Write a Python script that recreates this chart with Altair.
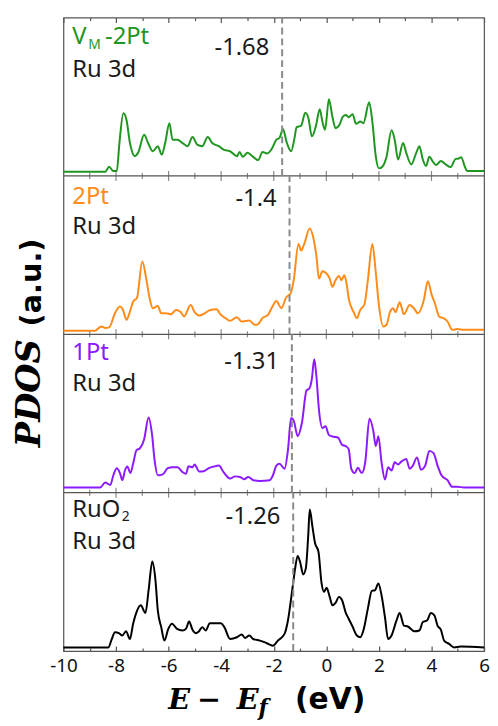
import altair as alt
import pandas as pd

# ---------------- data ----------------
x_vm = [-10, -8.41, -8.26, -8.10, -7.97, -7.87, -7.72, -7.60, -7.47, -7.28, -7.16, -6.93, -6.78, -6.60, -6.41,
        -6.26, -6.13, -5.97, -5.85, -5.66, -5.47, -5.28, -5.09, -4.91, -4.72, -4.51, -4.34, -4.09, -3.91, -3.66,
        -3.40, -3.30, -3.18, -3.00, -2.78, -2.59, -2.43, -2.25, -2.09, -1.90, -1.78, -1.65, -1.50, -1.34, -1.21,
        -1.13, -0.96, -0.80, -0.68, -0.55, -0.40, -0.25, -0.15, -0.05, 0.10, 0.23, 0.35, 0.50, 0.63, 0.75,
        0.85, 1.00, 1.13, 1.29, 1.41, 1.63, 1.75, 1.88, 2.00, 2.13, 2.29, 2.48, 2.60, 2.73, 2.92,
        3.04, 3.23, 3.42, 3.54, 3.67, 3.79, 3.92, 4.04, 4.17, 4.36, 4.54, 4.73, 4.92, 5.04, 5.13,
        5.26, 5.36, 5.61, 6.0]
y_vm = [2.7, 2.7, 5.8, 3.1, 3.1, 20.8, 39.6, 35.4, 20.8, 12.5, 14.6, 26.0, 20.8, 15.6, 18.8,
        13.5, 20.8, 33.3, 22.9, 22.9, 20.8, 18.8, 24.6, 19.8, 18.8, 24.6, 20.8, 18.8, 16.7, 15.6,
        12.5, 15.2, 12.1, 14.6, 12.1, 10.0, 15.2, 14.2, 16.7, 22.9, 24.0, 29.6, 20.8, 15.6, 24.0,
        30.8, 31.7, 40.0, 36.5, 25.0, 31.3, 42.1, 34.4, 29.2, 48.5, 37.5, 30.2, 32.3, 37.5, 38.5,
        37.1, 39.0, 32.9, 34.4, 33.3, 46.5, 34.4, 12.5, 4.8, 5.8, 12.1, 28.8, 22.9, 10.4, 20.8,
        14.6, 7.3, 14.6, 18.8, 10.4, 6.3, 12.1, 9.4, 6.9, 9.4, 7.3, 5.6, 10.8, 11.0, 11.9,
        6.3, 3.1, 3.1, 3.1]

x_2pt = [-10, -8.79, -8.56, -8.41, -8.26, -8.04, -7.85, -7.75, -7.60, -7.47, -7.35, -7.20, -7.00, -6.85, -6.72,
         -6.60, -6.41, -6.28, -6.10, -5.91, -5.72, -5.53, -5.41, -5.16, -5.01, -4.84, -4.66, -4.41, -4.18, -4.03,
         -3.84, -3.66, -3.40, -3.22, -2.93, -2.72, -2.59, -2.43, -2.22, -2.05, -1.90, -1.71, -1.53, -1.36, -1.24,
         -1.06, -0.96, -0.84, -0.63, -0.50, -0.38, -0.28, -0.15, 0.04, 0.13, 0.23, 0.35, 0.48, 0.58, 0.68,
         0.76, 0.85, 1.04, 1.16, 1.29, 1.45, 1.58, 1.75, 1.88, 2.00, 2.17, 2.29, 2.42, 2.54, 2.63,
         2.79, 2.95, 3.17, 3.35, 3.48, 3.71, 3.86, 4.01, 4.13, 4.29, 4.46, 4.61, 4.79, 4.98, 5.23, 6.0]
y_2pt = [2.3, 2.3, 5.0, 4.0, 4.4, 13.3, 17.5, 16.0, 9.2, 14.4, 20.6, 23.1, 46.0, 35.2, 22.7,
         16.5, 17.9, 13.3, 13.3, 12.7, 15.4, 14.0, 11.3, 18.5, 14.0, 11.9, 12.9, 15.4, 15.8, 12.7,
         10.2, 8.5, 10.8, 8.1, 8.8, 6.0, 6.5, 10.2, 12.3, 17.5, 21.0, 16.5, 23.3, 25.8, 34.2,
         57.1, 52.9, 57.1, 66.9, 61.3, 49.8, 35.2, 39.8, 37.7, 35.2, 30.0, 34.2, 36.9, 34.2, 37.3,
         33.1, 22.7, 14.0, 10.2, 15.4, 19.0, 34.2, 57.1, 39.4, 18.5, 5.0, 6.0, 14.0, 16.5, 14.0,
         20.2, 12.7, 18.5, 16.0, 13.3, 21.7, 33.5, 24.8, 19.6, 11.3, 10.2, 8.1, 2.9, 3.3, 2.9, 2.9]

x_1pt = [-10, -8.60, -8.41, -8.22, -8.10, -7.97, -7.85, -7.76, -7.66, -7.57, -7.45, -7.35, -7.22, -7.10, -6.93,
         -6.76, -6.63, -6.53, -6.41, -6.22, -6.03, -5.85, -5.66, -5.47, -5.34, -5.24, -5.09, -5.01, -4.84, -4.66,
         -4.47, -4.28, -4.09, -3.91, -3.66, -3.47, -3.28, -3.13, -2.97, -2.78, -2.53, -2.15, -2.03, -1.90, -1.78,
         -1.59, -1.46, -1.34, -1.24, -1.09, -0.93, -0.75, -0.65, -0.55, -0.46, -0.38, -0.28, -0.15, -0.03, 0.10,
         0.29, 0.45, 0.60, 0.73, 0.85, 0.95, 1.08, 1.20, 1.35, 1.48, 1.64, 1.79, 1.88, 1.98, 2.10,
         2.23, 2.35, 2.48, 2.60, 2.73, 2.85, 3.04, 3.17, 3.29, 3.45, 3.60, 3.76, 3.92, 4.08, 4.23,
         4.38, 4.61, 4.79, 4.98, 5.23, 6.0]
y_1pt = [3.3, 3.3, 6.4, 4.8, 11.0, 15.5, 12.4, 7.9, 14.0, 16.5, 12.4, 18.2, 26.9, 27.9, 33.7,
         47.5, 36.8, 20.2, 11.0, 11.6, 15.5, 16.1, 16.1, 13.0, 12.0, 16.7, 16.1, 17.8, 13.4, 13.6,
         15.5, 16.5, 17.1, 13.0, 8.9, 10.3, 9.9, 8.5, 9.9, 7.9, 7.4, 7.9, 11.0, 17.1, 18.2,
         15.1, 26.9, 47.1, 45.5, 35.7, 44.0, 64.7, 65.7, 71.9, 84.3, 74.0, 52.3, 40.9, 41.9, 36.4,
         35.3, 34.7, 30.2, 29.5, 27.5, 15.1, 12.4, 15.7, 12.4, 19.2, 46.7, 38.8, 29.5, 35.7, 19.2,
         8.3, 16.1, 14.0, 19.2, 17.8, 19.6, 21.3, 15.1, 17.1, 22.3, 14.5, 17.1, 26.4, 25.0, 17.1,
         11.0, 7.9, 3.7, 3.7, 3.3, 3.3]

x_ruo2 = [-10, -8.29, -8.16, -8.04, -7.89, -7.76, -7.62, -7.47, -7.35, -7.22, -7.06, -6.88, -6.76, -6.62, -6.50,
          -6.41, -6.28, -6.16, -6.01, -5.87, -5.68, -5.47, -5.34, -5.22, -5.09, -4.97, -4.84, -4.72, -4.59, -4.43,
          -4.22, -4.01, -3.88, -3.66, -3.40, -3.22, -3.09, -2.93, -2.78, -2.53, -2.28, -2.03, -1.84, -1.59, -1.46,
          -1.28, -1.18, -1.09, -0.99, -0.88, -0.78, -0.69, -0.63, -0.53, -0.43, -0.30, -0.18, -0.09, 0.01, 0.13,
          0.23, 0.35, 0.48, 0.60, 0.73, 0.85, 0.98, 1.16, 1.29, 1.41, 1.58, 1.73, 1.85, 1.98, 2.10,
          2.23, 2.35, 2.48, 2.67, 2.79, 2.95, 3.10, 3.35, 3.54, 3.67, 3.83, 3.98, 4.11, 4.23, 4.36,
          4.48, 4.67, 4.86, 5.11, 6.0]
y_ruo2 = [2.3, 2.3, 7.6, 11.9, 11.3, 9.8, 12.5, 7.6, 17.2, 24.6, 28.9, 24.0, 38.4, 56.5, 44.8,
          25.7, 15.1, 6.6, 14.0, 17.2, 14.0, 13.0, 14.0, 18.7, 13.4, 11.3, 12.5, 15.1, 13.0, 17.6,
          17.6, 17.6, 15.1, 7.6, 8.7, 10.4, 8.3, 9.8, 7.6, 6.6, 5.1, 3.4, 6.6, 10.8, 19.3,
          40.6, 52.9, 60.1, 55.8, 48.4, 52.2, 72.4, 89.4, 78.8, 68.2, 62.8, 42.7, 37.4, 39.9, 34.2,
          28.9, 30.4, 34.2, 32.1, 24.6, 20.4, 16.1, 9.8, 8.7, 13.0, 26.8, 38.0, 38.4, 42.7, 35.2,
          21.4, 7.6, 9.8, 19.3, 24.0, 16.1, 15.5, 12.5, 13.0, 18.3, 19.3, 24.0, 22.5, 16.1, 13.4,
          6.6, 4.5, 2.3, 2.8, 2.3]

series_x = [x_vm, x_2pt, x_1pt, x_ruo2]
series_y = [y_vm, y_2pt, y_1pt, y_ruo2]
colors = ["#1f961f", "#ff8c1a", "#8c1aff", "#000000"]
ef_values = [-1.68, -1.4, -1.31, -1.26]
ef_labels = ["-1.68", "-1.4", "-1.31", "-1.26"]
major_ticks = [-10, -8, -6, -4, -2, 0, 2, 4, 6]
minor_ticks = [-9, -7, -5, -3, -1, 1, 3, 5]

# ---------------- layout / styling ----------------
W, PH = 425, 160          # plot width, height of one panel
NP = 4                    # number of stacked panels
SPAN = 100                # y units per panel (pdos is in % of panel height)
XD = [-10, 6]
SANS = "Noto Sans"
TXT = "#1a1a1a"
FRAME = "#555555"
one = pd.DataFrame({"k": [0]})

xscale = alt.Scale(domain=XD, nice=False, zero=False)
yscale = alt.Scale(domain=[0, NP * SPAN], nice=False, zero=False)


def base_of(i):
    # panel 0 is on top
    return (NP - 1 - i) * SPAN


def ax(orient, values, size, labels=False):
    kw = dict(orient=orient, values=values, tickSize=size, offset=-size, domain=False,
              grid=False, title=None, labels=labels, tickColor=FRAME, tickWidth=1.2)
    if labels:
        kw.update(labelFontSize=19, labelFont=SANS, labelColor="#111111", labelPadding=6,
                  labelFlush=False, labelExpr="'' + datum.value")
    return alt.Axis(**kw)


def label(text, x, y, size=24, color=TXT, font=SANS, **kw):
    return alt.Chart(one).mark_text(text=text, align="left", baseline="alphabetic",
                                    fontSize=size, font=font, color=color, **kw
                                    ).encode(x=alt.value(x), y=alt.value(y))


MATH = dict(font="DejaVu Serif", fontWeight="bold", fontStyle="italic")

# the four outer tick axes are carried by the four curves
curve_axes = [ax("bottom", major_ticks, 5, True), ax("bottom", minor_ticks, 3),
              ax("top", major_ticks, 5), ax("top", minor_ticks, 3)]

layers = []
for i in range(NP):
    df = pd.DataFrame({"E": series_x[i], "pdos": series_y[i]})
    layers.append(
        alt.Chart(df).transform_calculate(yy=f"datum.pdos + {base_of(i)}")
        .mark_line(color=colors[i], strokeWidth=2, interpolate="monotone")
        .encode(x=alt.X("E:Q", scale=xscale, axis=curve_axes[i]),
                y=alt.Y("yy:Q", scale=yscale, axis=None))
    )

# panel separators and the ticks that sit on them
bounds_df = pd.DataFrame({"b": [base_of(i) for i in range(NP - 1)]})
layers.append(alt.Chart(bounds_df).mark_rule(color=FRAME, strokeWidth=1.2).encode(
    y=alt.Y("b:Q", scale=yscale, axis=None)))
for ticks, size in ((major_ticks[1:-1], 10), (minor_ticks, 6)):
    tdf = pd.DataFrame([(t, b) for t in ticks for b in bounds_df["b"]], columns=["t", "b"])
    layers.append(alt.Chart(tdf).mark_tick(orient="vertical", size=size, thickness=1.2, color=FRAME).encode(
        x=alt.X("t:Q", scale=xscale, axis=None), y=alt.Y("b:Q", scale=yscale, axis=None)))

# Fermi-level markers, one per panel
ef_df = pd.DataFrame({"ef": ef_values, "lo": [base_of(i) for i in range(NP)],
                      "hi": [base_of(i) + SPAN for i in range(NP)]})
layers.append(alt.Chart(ef_df).mark_rule(color="#8a8a8a", strokeWidth=2, strokeDash=[7, 4]).encode(
    x=alt.X("ef:Q", scale=xscale, axis=None),
    y=alt.Y("lo:Q", scale=yscale, axis=None), y2="hi:Q"))
ef_label_y = [38, 30, 35, 32]
for i in range(NP):
    efdf = pd.DataFrame({"ef": [ef_values[i]], "lab": [ef_labels[i]]})
    layers.append(alt.Chart(efdf).mark_text(align="right", baseline="alphabetic", dx=-13, fontSize=24,
                                            font=SANS, color=TXT).encode(
        x=alt.X("ef:Q", scale=xscale, axis=None), y=alt.value(i * PH + ef_label_y[i]), text="lab:N"))

# panel names
layers += [
    label("V", 9, 27, color=colors[0]), label("M", 25, 32, 14, colors[0]),
    label("-2Pt", 42, 27, color=colors[0]), label("Ru 3d", 9, 60),
    label("2Pt", 9, PH + 28, color=colors[1]), label("Ru 3d", 9, PH + 59),
    label("1Pt", 9, 2 * PH + 26, color=colors[2]), label("Ru 3d", 9, 2 * PH + 57),
    label("RuO", 9, 3 * PH + 25), label("2", 59, 3 * PH + 29, 14), label("Ru 3d", 9, 3 * PH + 57),
]

# axis titles
layers += [
    label("PDOS", -24, 2 * PH + 114, 34, "#000000", angle=270, **MATH),
    label("(a.u.)", -23, 2 * PH - 8, 29, "#000000", "DejaVu Sans", fontWeight="bold", angle=270),
    label("E", 106, 3 * PH + 219, 29, "#000000", **MATH),
    label("\u2212", 135, 3 * PH + 219, 29, "#000000", "DejaVu Serif", fontWeight="bold"),
    label("E", 175, 3 * PH + 219, 29, "#000000", **MATH),
    label("f", 197, 3 * PH + 225, 22, "#000000", **MATH),
    label("(eV)", 234, 3 * PH + 219, 30, "#000000", "DejaVu Sans", fontWeight="bold"),
    # left-edge spacer so the frame starts 56px in from the page margin
    alt.Chart(one).mark_rule(opacity=0).encode(
        x=alt.value(-56), x2=alt.value(-56), y=alt.value(0), y2=alt.value(10)),
]

chart = alt.layer(*layers).resolve_axis(x="independent").properties(
    width=W, height=NP * PH,
    padding={"left": 0, "top": 5, "right": 0, "bottom": 0},
).configure_view(stroke=FRAME, strokeWidth=1.2)

chart.save("out.html", embed_options={"renderer": "svg", "actions": False})
